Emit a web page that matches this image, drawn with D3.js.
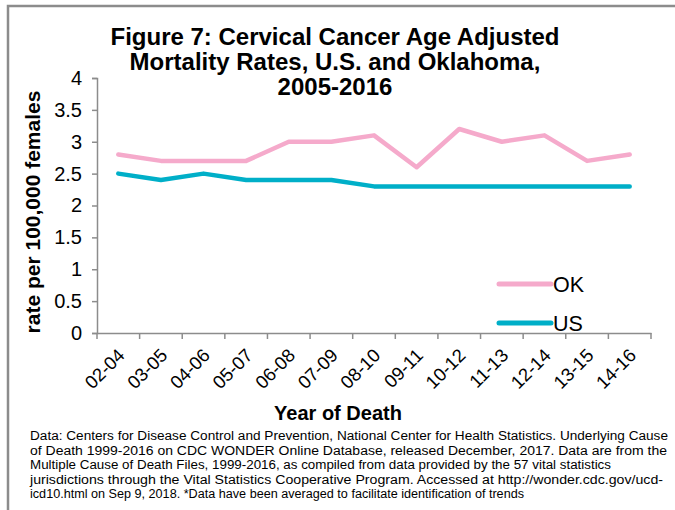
<!DOCTYPE html>
<html>
<head>
<meta charset="utf-8">
<script src="https://cdn.jsdelivr.net/npm/d3@7"></script>
<style>
  body { margin: 0; background: #fff; }
  svg text { font-family: "Liberation Sans", Arial, sans-serif; fill: #000; }
</style>
</head>
<body>
<div id="draw"></div>
<script>
// periods (3-year averages) and rates per 100,000 females
const periods = ["02-04", "03-05", "04-06", "05-07", "06-08", "07-09", "08-10",
                 "09-11", "10-12", "11-13", "12-14", "13-15", "14-16"];
const okRates = [2.8, 2.7, 2.7, 2.7, 3.0, 3.0, 3.1, 2.6, 3.2, 3.0, 3.1, 2.7, 2.8];
const usRates = [2.5, 2.4, 2.5, 2.4, 2.4, 2.4, 2.3, 2.3, 2.3, 2.3, 2.3, 2.3, 2.3];
const yTicks = [0, 0.5, 1, 1.5, 2, 2.5, 3, 3.5, 4];

const titleLines = ["Figure 7: Cervical Cancer Age Adjusted",
                    "Mortality Rates, U.S. and Oklahoma,",
                    "2005-2016"];
const noteLines = [
  "Data: Centers for Disease Control and Prevention, National Center for Health Statistics. Underlying Cause",
  "of Death 1999-2016 on CDC WONDER Online Database, released December, 2017. Data are from the",
  "Multiple Cause of Death Files, 1999-2016, as compiled from data provided by the 57 vital statistics",
  "jurisdictions through the Vital Statistics Cooperative Program. Accessed at http://wonder.cdc.gov/ucd-",
  "icd10.html on Sep 9, 2018. *Data have been averaged to facilitate identification of trends"
];
const noteWidths = [638, 637, 581, 633, 494];

const series = [
  {name: "OK", values: okRates, color: "#f5aacb"},
  {name: "US", values: usRates, color: "#00afc8"}
];

const W = 675, H = 510;
const plot = {left: 97, right: 651, top: 78, bottom: 333};
const axisColor = "#8c8c8c";

const svg = d3.select("#draw").append("svg")
    .attr("width", W)
    .attr("height", H);

// frame round the figure
svg.append("path")
    .attr("d", `M8,${H} L8,6 L${W},6`)
    .attr("fill", "none")
    .attr("stroke", axisColor)
    .attr("stroke-width", 2.5);

const x = d3.scaleBand().domain(periods).range([plot.left, plot.right]);
const y = d3.scaleLinear().domain([0, 4]).range([plot.bottom, plot.top]);

// y axis
const yAxis = svg.append("g")
    .attr("transform", `translate(${plot.left},0)`)
    .call(d3.axisLeft(y).tickValues(yTicks).tickSize(5).tickPadding(10).tickFormat(d => d));
yAxis.selectAll("line, path").attr("stroke", axisColor).attr("stroke-width", 1.5);
yAxis.selectAll("text").style("font-size", "20px").attr("fill", "#000");

// x axis, ticks sit between the categories
const xAxis = svg.append("g")
    .attr("transform", `translate(0,${plot.bottom})`)
    .call(d3.axisBottom(x).tickSize(0).tickPadding(0));
xAxis.select("path").attr("stroke", axisColor).attr("stroke-width", 1.5);
xAxis.selectAll("text")
    .style("font-size", "18.5px")
    .attr("fill", "#000")
    .attr("text-anchor", "end")
    .attr("transform", "translate(3,19) rotate(-45)")
    .attr("dy", "0.35em");
const bounds = periods.map(p => x(p)).concat([x.range()[1]]);
xAxis.selectAll(".bound").data(bounds).enter().append("line")
    .attr("x1", d => d).attr("x2", d => d)
    .attr("y1", 0).attr("y2", 6)
    .attr("stroke", axisColor).attr("stroke-width", 1.5);

// lines
const line = d3.line()
    .x((d, i) => x(periods[i]) + x.bandwidth() / 2)
    .y(d => y(d));
series.forEach(s => {
  svg.append("path")
      .datum(s.values)
      .attr("d", line)
      .attr("fill", "none")
      .attr("stroke", s.color)
      .attr("stroke-width", 4.5)
      .attr("stroke-linejoin", "round")
      .attr("stroke-linecap", "round");
});

// legend
const legend = svg.append("g").attr("transform", "translate(499,284)");
series.forEach((s, i) => {
  const g = legend.append("g").attr("transform", `translate(0,${i * 39})`);
  g.append("line")
      .attr("x1", 0).attr("x2", 52)
      .attr("stroke", s.color).attr("stroke-width", 5)
      .attr("stroke-linecap", "round");
  g.append("text")
      .attr("x", 54).attr("y", 8)
      .style("font-size", "21.5px")
      .text(s.name);
});

// title
svg.append("g").selectAll("text").data(titleLines).enter().append("text")
    .attr("x", 335)
    .attr("y", (d, i) => 45 + i * 25)
    .attr("text-anchor", "middle")
    .style("font-size", "24px")
    .style("font-weight", "bold")
    .text(d => d);

// axis titles
svg.append("text")
    .attr("transform", "translate(40,212) rotate(-90)")
    .attr("text-anchor", "middle")
    .style("font-size", "21px")
    .style("font-weight", "bold")
    .text("rate per 100,000 females");

svg.append("text")
    .attr("x", 338)
    .attr("y", 420)
    .attr("text-anchor", "middle")
    .style("font-size", "20px")
    .style("font-weight", "bold")
    .text("Year of Death");

// source note
svg.append("g").selectAll("text").data(noteLines).enter().append("text")
    .attr("x", 30)
    .attr("y", (d, i) => 440 + i * 14.6)
    .attr("textLength", (d, i) => noteWidths[i])
    .attr("lengthAdjust", "spacingAndGlyphs")
    .style("font-size", "12.5px")
    .text(d => d);
</script>
</body>
</html>
